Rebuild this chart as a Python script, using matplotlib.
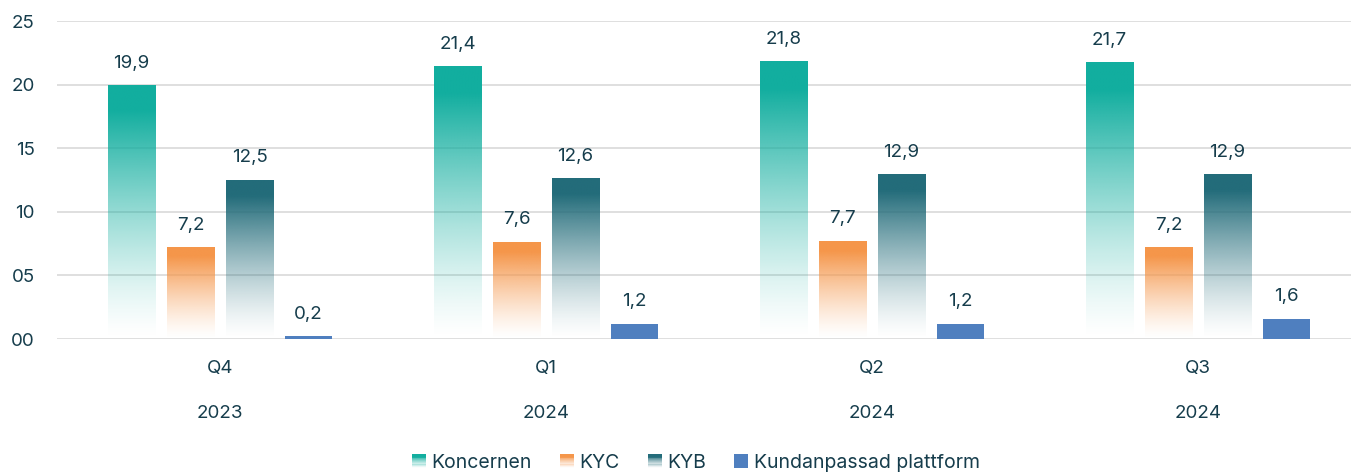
import numpy as np
import matplotlib
matplotlib.use("Agg")
import matplotlib.pyplot as plt
from matplotlib.colors import to_rgb
from matplotlib.legend_handler import HandlerBase
from matplotlib.patches import Rectangle
import matplotlib.transforms as mtransforms

plt.rcParams['font.family'] = ['Inter', 'DejaVu Sans']

quarters = ["Q4", "Q1", "Q2", "Q3"]
years = ["2023", "2024", "2024", "2024"]
series_names = ["Koncernen", "KYC", "KYB", "Kundanpassad plattform"]
koncernen = [19.9, 21.4, 21.8, 21.7]
kyc = [7.2, 7.6, 7.7, 7.2]
kyb = [12.5, 12.6, 12.9, 12.9]
kund = [0.2, 1.2, 1.2, 1.6]
yticks = [0, 5, 10, 15, 20, 25]
ytick_labels = ["00", "05", "10", "15", "20", "25"]

colors = ["#12ae9f", "#f5964a", "#236c7a", "#4f7fbf"]
gradient = [True, True, True, False]
text_color = "#163d4c"

series = [koncernen, kyc, kyb, kund]

fig = plt.figure(figsize=(13.51, 4.72), dpi=100)
ax = fig.add_axes([57/1351, 1-339/472, 1-57/1351, (339-21)/472])

width = 0.147
spacing = 0.181
offsets = [(-1.5 + i) * spacing for i in range(4)]
x = np.arange(len(quarters))


def alpha_profile(n=256):
    f = np.linspace(0, 1, n)  # 0 top, 1 bottom
    a = np.clip((1 - f) / 0.9, 0, 1) ** 1.35
    return a


for si, (vals, col, grad) in enumerate(zip(series, colors, gradient)):
    for xi, v in zip(x, vals):
        xc = xi + offsets[si]
        if grad:
            rgb = to_rgb(col)
            a = alpha_profile()
            img = np.zeros((len(a), 1, 4))
            img[:, 0, 0] = rgb[0]
            img[:, 0, 1] = rgb[1]
            img[:, 0, 2] = rgb[2]
            img[:, 0, 3] = a
            ax.imshow(img, extent=[xc - width/2, xc + width/2, 0, v],
                      aspect='auto', interpolation='bilinear', zorder=3, origin='upper')
        else:
            ax.bar(xc, v, width=width, color=col, zorder=3)
        ax.annotate(f"{v:.1f}".replace('.', ','), (xc, v), xytext=(0, 10),
                    textcoords='offset points', ha='center', va='bottom',
                    fontsize=13.5, color=text_color, zorder=4)

ax.set_xlim(-0.5, (1351 - 57) / 326 - 0.5)
ax.set_ylim(0, 25)
ax.set_yticks(yticks)
ax.set_yticklabels(ytick_labels)
ax.set_xticks([])
ax.tick_params(axis='y', length=0, pad=16, labelsize=13.5, labelcolor=text_color)
ax.yaxis.grid(True, color="#d9d9d9", linewidth=1.2, zorder=0)
ax.set_axisbelow(True)
for s in ax.spines.values():
    s.set_visible(False)

trans = mtransforms.blended_transform_factory(ax.transData, ax.transAxes)
for xi, q, yr in zip(x, quarters, years):
    ax.text(xi, -29/318, q, transform=trans, ha='center', va='center',
            fontsize=13.5, color=text_color)
    ax.text(xi, -74/318, yr, transform=trans, ha='center', va='center',
            fontsize=13.5, color=text_color)


class GradHandler(HandlerBase):
    def __init__(self, color, grad):
        super().__init__()
        self.color = color
        self.grad = grad

    def create_artists(self, legend, orig_handle, xdescent, ydescent, width, height, fontsize, trans):
        arts = []
        size = min(width, height)
        x0 = -xdescent + (width - size) / 2
        y0 = -ydescent + (height - size) / 2
        n = 12
        rgb = to_rgb(self.color)
        for i in range(n):
            f = (i + 0.5) / n  # from top
            if self.grad:
                a = float(np.clip((1 - f) / 0.9, 0, 1) ** 1.35)
            else:
                a = 1.0
            r = Rectangle((x0, y0 + size * (1 - (i + 1) / n)), size, size / n + 0.3,
                          facecolor=(*rgb, a), edgecolor='none', transform=trans)
            arts.append(r)
        return arts


handles = [Rectangle((0, 0), 1, 1) for _ in series_names]
handler_map = {h: GradHandler(c, g) for h, c, g in zip(handles, colors, gradient)}
leg = fig.legend(handles, series_names, handler_map=handler_map, loc='center',
                 bbox_to_anchor=(696/1351, 1 - 463/472), ncol=4, frameon=False,
                 fontsize=14, handlelength=0.7, handleheight=0.7, handletextpad=0.3,
                 columnspacing=1.45, labelcolor=text_color)

fig.savefig("out.png", dpi=100)
